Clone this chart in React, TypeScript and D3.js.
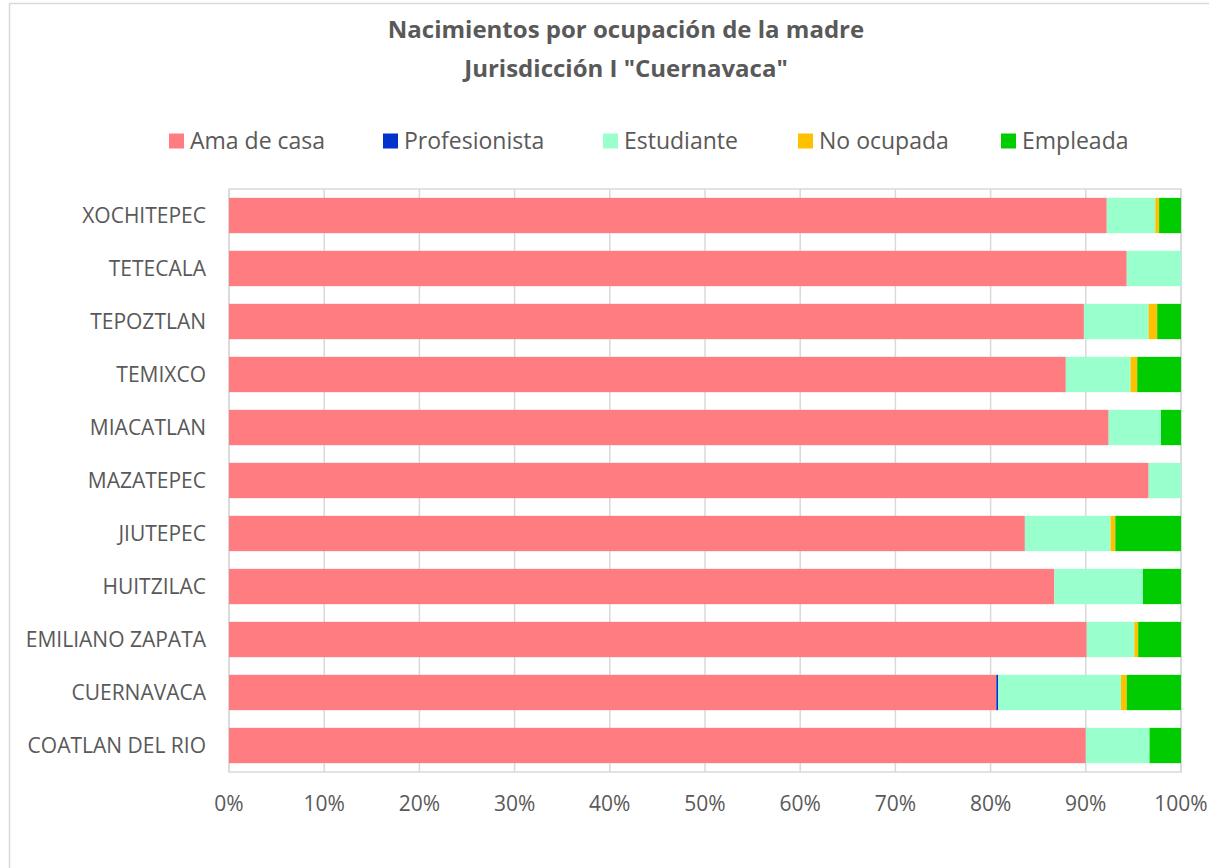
import * as d3 from "d3";

// municipios, listed top to bottom as in the chart
const municipios = [
  "XOCHITEPEC",
  "TETECALA",
  "TEPOZTLAN",
  "TEMIXCO",
  "MIACATLAN",
  "MAZATEPEC",
  "JIUTEPEC",
  "HUITZILAC",
  "EMILIANO ZAPATA",
  "CUERNAVACA",
  "COATLAN DEL RIO",
];

const series = ["Ama de casa", "Profesionista", "Estudiante", "No ocupada", "Empleada"];
const colors = ["#FF7C80", "#0033CC", "#99FFCC", "#FFC000", "#00CC00"];

// percentages per municipio (same order as municipios)
const amaDeCasa = [92.2, 94.3, 89.8, 87.9, 92.4, 96.6, 83.6, 86.7, 90.1, 80.6, 90.0];
const profesionista = [0, 0, 0, 0, 0, 0, 0, 0, 0, 0.2, 0];
const estudiante = [5.1, 5.7, 6.8, 6.8, 5.5, 3.4, 9.0, 9.3, 5.0, 12.9, 6.7];
const noOcupada = [0.4, 0, 0.9, 0.7, 0, 0, 0.5, 0, 0.4, 0.6, 0];
const empleada = [2.3, 0, 2.5, 4.6, 2.1, 0, 6.9, 4.0, 4.5, 5.7, 3.3];

const ticks = [0, 10, 20, 30, 40, 50, 60, 70, 80, 90, 100];

const W = 1209;
const H = 868;
const font = "'Open Sans', Lato, sans-serif";
const textColor = "#595959";
const gridColor = "#d9d9d9";

export default function App() {
  const rows = municipios.map((m, i) => ({
    name: m,
    [series[0]]: amaDeCasa[i],
    [series[1]]: profesionista[i],
    [series[2]]: estudiante[i],
    [series[3]]: noOcupada[i],
    [series[4]]: empleada[i],
  }));

  const stacked = d3.stack().keys(series).offset(d3.stackOffsetExpand)(rows as any);

  const x = d3.scaleLinear().domain([0, 1]).range([229, 1181]);
  const y = d3
    .scaleBand()
    .domain(municipios)
    .range([189, 772])
    .paddingInner(1 / 3)
    .paddingOuter(1 / 6);

  const legendX = [169, 383, 603, 798, 1001];

  return (
    <svg
      width={W}
      height={H}
      style={{ position: "absolute", left: 0, top: 0, background: "#fff" }}
      fontFamily={font}
    >
      <rect x={0} y={0} width={W} height={H} fill="#fff" />
      <rect x={9.5} y={3.5} width={W + 20} height={H + 20} fill="none" stroke={gridColor} strokeWidth={1.5} />

      <text x={626} y={37.5} textAnchor="middle" fontSize={24} fontWeight="bold" fill={textColor}>
        Nacimientos por ocupación de la madre
      </text>
      <text x={626} y={76.5} textAnchor="middle" fontSize={24} fontWeight="bold" fill={textColor}>
        Jurisdicción I "Cuernavaca"
      </text>

      {series.map((s, i) => (
        <g key={s} transform={`translate(${legendX[i]},141)`}>
          <rect x={0} y={-7.5} width={15} height={15} fill={colors[i]} />
          <text x={21} y={0} dy="0.36em" fontSize={23} fill={textColor}>
            {s}
          </text>
        </g>
      ))}

      {ticks.map((t) => (
        <line
          key={t}
          x1={x(t / 100)}
          x2={x(t / 100)}
          y1={189}
          y2={772}
          stroke={gridColor}
          strokeWidth={1.5}
        />
      ))}
      <rect x={229} y={189} width={952} height={583} fill="none" stroke={gridColor} strokeWidth={1.5} />

      {stacked.map((layer, i) => (
        <g key={layer.key} fill={colors[i]}>
          {layer.map((d, j) =>
            d[1] - d[0] > 0 ? (
              <rect
                key={j}
                x={x(d[0])}
                y={y(municipios[j])}
                width={x(d[1]) - x(d[0])}
                height={y.bandwidth()}
              />
            ) : null
          )}
        </g>
      ))}

      {municipios.map((m) => (
        <text
          key={m}
          x={206}
          y={(y(m) ?? 0) + y.bandwidth() / 2}
          dy="0.36em"
          textAnchor="end"
          fontSize={21}
          fill={textColor}
        >
          {m}
        </text>
      ))}

      {ticks.map((t) => (
        <text key={t} x={x(t / 100)} y={803} dy="0.36em" textAnchor="middle" fontSize={21} fill={textColor}>
          {t}%
        </text>
      ))}
    </svg>
  );
}
